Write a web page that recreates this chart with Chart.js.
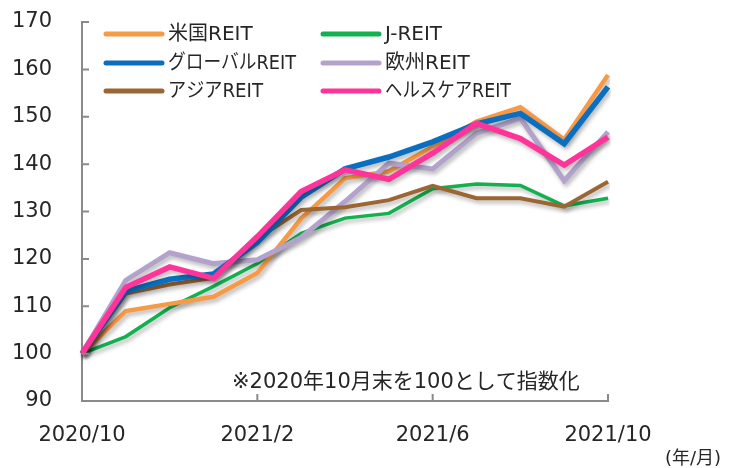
<!DOCTYPE html>
<html>
<head>
<meta charset="utf-8">
<script src="https://cdn.jsdelivr.net/npm/chart.js@4.4.1/dist/chart.umd.min.js"></script>
<style>
html,body{margin:0;padding:0;background:#fff;}
#wrap{width:735px;height:468px;position:relative;}
</style>
</head>
<body>
<div id="wrap"><canvas id="c" width="735" height="468"></canvas></div>
<script>
const months = ['2020/10','2020/11','2020/12','2021/1','2021/2','2021/3','2021/4','2021/5','2021/6','2021/7','2021/8','2021/9','2021/10'];
const seriesNames = ['米国REIT','J-REIT','グローバルREIT','欧州REIT','アジアREIT','ヘルスケアREIT'];
const usReit     = [100, 109, 110.5, 112, 117, 128.5, 137, 138.5, 143.7, 149, 152, 145.2, 158.8];
const jReit      = [100, 103.6, 109.7, 114.2, 119, 125.4, 128.6, 129.6, 134.8, 135.8, 135.5, 131.2, 132.8];
const globalReit = [100, 113.2, 115.7, 116.8, 123.5, 133, 139, 141.5, 144.7, 148.5, 150.7, 144.3, 156.3];
const euReit     = [100, 115.5, 121.3, 119, 119.8, 124.5, 132.1, 140.2, 139, 146.5, 149.7, 136.5, 146.8];
const asiaReit   = [100, 112.7, 114.6, 116, 124.3, 130.3, 130.9, 132.4, 135.4, 132.8, 132.8, 131, 136.3];
const healthReit = [100, 114, 118.3, 115.9, 124.7, 134.2, 138.8, 136.8, 142.3, 148.6, 145.4, 139.8, 145.7];
const yTicks = [90, 100, 110, 120, 130, 140, 150, 160, 170];
const noteText = '※2020年10月末を100として指数化';
const unitText = '(年/月)';

const colors = ['#F79A46','#12B04E','#0B6FC1','#B3A3CC','#9B6632','#FF3399'];
const widths = [4.5, 3.5, 5.5, 5, 4, 5.5];
const orders = [4, 5, 1, 3, 2, 0];
const allData = [usReit, jReit, globalReit, euReit, asiaReit, healthReit];

const AXIS_COLOR = '#8a8a8a';
const TEXT_COLOR = '#262626';
const LATIN = '"DejaVu Sans","Noto Sans CJK JP",sans-serif';

const shadowPlugin = {
  id: 'shadow',
  beforeDatasetsDraw(chart) {
    const ctx = chart.ctx;
    ctx.save();
    ctx.shadowColor = 'rgba(0,0,0,0.28)';
    ctx.shadowBlur = 4;
    ctx.shadowOffsetX = 2;
    ctx.shadowOffsetY = 3;
  },
  afterDatasetsDraw(chart) { chart.ctx.restore(); }
};

const innerTicks = {
  id: 'innerTicks',
  afterDraw(chart) {
    const ctx = chart.ctx;
    const y = chart.scales.y, x = chart.scales.x;
    const ca = chart.chartArea;
    ctx.save();
    ctx.strokeStyle = AXIS_COLOR;
    ctx.lineWidth = 2;
    ctx.beginPath();
    yTicks.forEach(v => {
      const py = y.getPixelForValue(v);
      ctx.moveTo(ca.left, py); ctx.lineTo(ca.left + 7, py);
    });
    months.forEach((m, i) => {
      if (i > 0 && i % 4 === 0) {
        const px = x.getPixelForValue(i);
        ctx.moveTo(px, ca.bottom); ctx.lineTo(px, ca.bottom - 7);
      }
    });
    ctx.stroke();

    // note text
    ctx.fillStyle = TEXT_COLOR;
    ctx.font = '21px ' + LATIN;
    ctx.textBaseline = 'alphabetic';
    ctx.textAlign = 'left';
    ctx.fillText(noteText, 232, 388, 362);
    ctx.font = '18px ' + LATIN;
    ctx.fillText(unitText, 665, 464, 66);

    // legend
    const cols = [{lx: 106, tx: 168}, {lx: 323, tx: 385}];
    const rows = [34, 63, 91];
    const maxW = [88, 64, 128, 87, 95, 126];
    chart.data.datasets.forEach((ds, i) => {
      const c = cols[i % 2], r = rows[Math.floor(i / 2)];
      ctx.strokeStyle = ds.borderColor;
      ctx.lineWidth = 5;
      ctx.lineCap = 'round';
      ctx.beginPath();
      ctx.moveTo(c.lx, r); ctx.lineTo(c.lx + 56, r);
      ctx.stroke();
      ctx.fillStyle = TEXT_COLOR;
      ctx.font = '20px ' + LATIN;
      ctx.textBaseline = 'middle';
      ctx.fillText(ds.label, c.tx, r + 1, maxW[i]);
    });
    ctx.restore();
  }
};

new Chart(document.getElementById('c'), {
  type: 'line',
  data: {
    labels: months,
    datasets: allData.map((d, i) => ({
      label: seriesNames[i],
      data: d,
      borderColor: colors[i],
      backgroundColor: colors[i],
      borderWidth: widths[i],
      pointRadius: 0,
      tension: 0,
      fill: false,
      order: orders[i]
    }))
  },
  options: {
    responsive: false,
    animation: false,
    layout: { padding: { top: 22, right: 127, left: 0, bottom: 0 } },
    plugins: { legend: { display: false }, tooltip: { enabled: false } },
    scales: {
      x: {
        type: 'category',
        offset: false,
        grid: { display: false, drawTicks: false },
        border: { display: true, color: AXIS_COLOR, width: 2 },
        ticks: {
          autoSkip: false, maxRotation: 0, padding: 22,
          color: TEXT_COLOR,
          font: { family: LATIN, size: 21 },
          callback: (v, i) => (i % 4 === 0 ? months[i] : '')
        },
        afterFit: s => { s.height = 67; s.paddingLeft = 0; s.paddingRight = 0; }
      },
      y: {
        min: 90, max: 170,
        grid: { display: false, drawTicks: false },
        border: { display: true, color: AXIS_COLOR, width: 2 },
        ticks: {
          stepSize: 10, padding: 30,
          color: TEXT_COLOR,
          font: { family: LATIN, size: 21 }
        },
        afterFit: s => { s.width = 82; s.paddingTop = 0; s.paddingBottom = 0; }
      }
    }
  },
  plugins: [shadowPlugin, innerTicks]
});
</script>
</body>
</html>
